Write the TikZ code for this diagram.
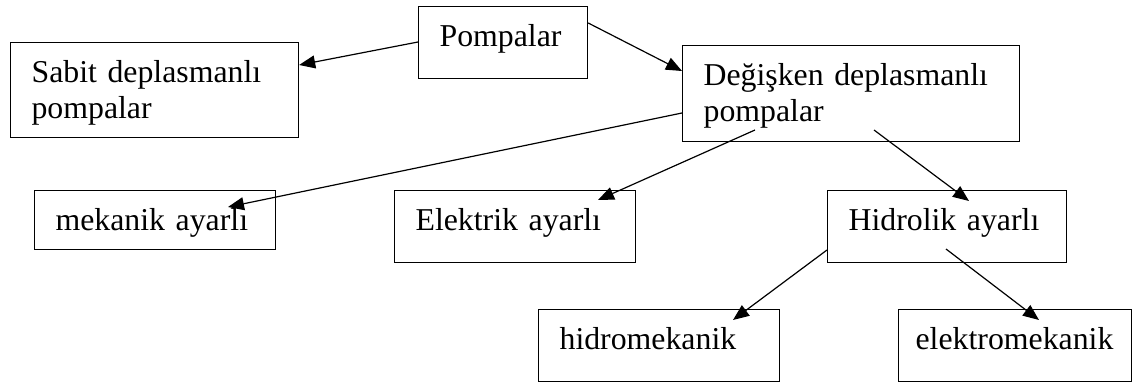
\documentclass[tikz,border=0pt]{standalone}
\usepackage{fontspec}
\setmainfont{Liberation Serif}
\usetikzlibrary{arrows.meta,calc}

\tikzset{
  kutu/.style={draw, line width=0.6pt, anchor=north west, inner xsep=10.5pt,
    inner ysep=0pt, align=left, text height=20pt,
    font=\fontsize{15.9pt}{18.2pt}\selectfont},
  ok/.style={-{Triangle[length=8pt,width=6.5pt]}, line width=0.6pt}
}

\begin{document}
\begin{tikzpicture}[x=0.5pt,y=-0.5pt]
  \useasboundingbox (0,0) rectangle (1137,385);

  % top row
  \node[kutu, text width=63.5pt, text depth=16pt] (pompalar) at (418,6) {Pompalar};
  \node[kutu, text width=123pt, text depth=27.5pt] (sabit) at (10,42) {Sabit deplasmanlı\\pompalar};
  \node[kutu, text width=147.5pt, text depth=28pt] (degisken) at (682,45) {Değişken deplasmanlı\\pompalar};

  % middle row
  \node[kutu, text width=99.5pt, text depth=9.5pt] (mekanik) at (34,190) {mekanik ayarlı};
  \node[kutu, text width=99.5pt, text depth=16pt] (elektrik) at (394,190) {Elektrik ayarlı};
  \node[kutu, text width=98.5pt, text depth=16pt] (hidrolik) at (827,190) {Hidrolik ayarlı};

  % bottom row
  \node[kutu, text width=99.5pt, text depth=16pt] (hidromek) at (538,309) {hidromekanik};
  \node[kutu, inner xsep=8.5pt, text width=99.5pt, text depth=16pt] (elektromek) at (898,309) {elektromekanik};

  % arrows
  \draw[ok] ($(pompalar.north west)+(0,36)$) -- ($(sabit.north east)+(0,23)$);
  \draw[ok] ($(pompalar.north east)+(0,17)$) -- ($(degisken.north west)+(0,26)$);
  \draw[ok] ($(degisken.north west)+(0,68)$) -- ($(mekanik.north west)+(194,17)$);
  \draw[ok] ($(degisken.north west)+(73,85)$) -- ($(elektrik.north west)+(204,10)$);
  \draw[ok] ($(degisken.north west)+(192,85)$) -- ($(hidrolik.north west)+(142,11)$);
  \draw[ok] ($(hidrolik.north west)+(0,60)$) -- ($(hidromek.north west)+(195,11)$);
  \draw[ok] ($(hidrolik.north west)+(119,59)$) -- ($(elektromek.north west)+(141,11)$);

\end{tikzpicture}
\end{document}
